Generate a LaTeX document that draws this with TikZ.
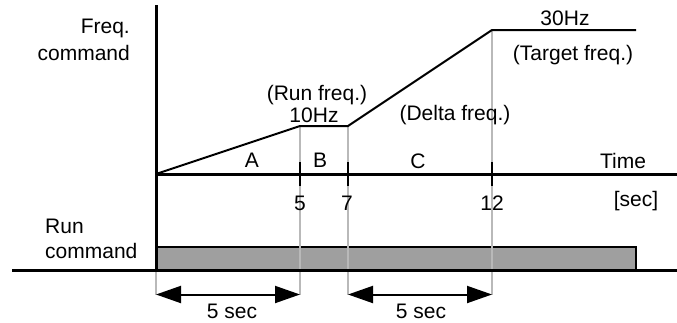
\documentclass[tikz,border=0pt]{standalone}
\usepackage{fontspec}
\setmainfont{Liberation Sans}
\usetikzlibrary{arrows.meta}

\begin{document}
\begin{tikzpicture}[x=1pt, y=-1pt,
  every node/.style={font=\fontsize{21}{25}\selectfont, inner sep=0pt, anchor=base},
  axis/.style={line width=3pt},
  ramp/.style={line width=2pt},
  guide/.style={line width=1.4pt, gray!55},
  dimline/.style={line width=2pt, {Triangle[length=25pt, width=17pt]}-{Triangle[length=25pt, width=17pt]}}]
  \useasboundingbox (0,0) rectangle (677,322);
  % key points of the frequency profile
  \coordinate (o) at (156,174);
  \coordinate (p5) at (300,126);
  \coordinate (p7) at (348,126);
  \coordinate (p12) at (492,30);
  \coordinate (pend) at (636,30);
  \coordinate (dim) at (0,294.5);
  \coordinate (base) at (0,270);
  % run command bar
  \draw[line width=1.4pt, fill=gray!75] (156,247) rectangle (636,270);
  % guide lines
  \draw[guide] (p5) -- (p5 |- dim);
  \draw[guide] (p7) -- (p7 |- dim);
  \draw[guide] (p12) -- (p12 |- dim);
  \draw[guide] (o |- base) -- (o |- dim);
  % axes
  \draw[axis] (156,5) -- (o |- base);
  \draw[axis] (o) -- (677,174);
  \draw[axis] (12,270) -- (677,270);
  \foreach \t in {p5, p7, p12}
    \draw[line width=2.5pt] (\t |- 0,162) -- (\t |- 0,186);
  \draw[ramp] (o) -- (p5) -- (p7) -- (p12) -- (pend);
  % time spans
  \draw[dimline] (o |- dim) -- (p5 |- dim);
  \draw[dimline] (p7 |- dim) -- (p12 |- dim);
  % labels
  \node[anchor=base east] (freq) at (130,33) {Freq.};
  \node[anchor=base east] (freqcmd) at (130,60) {command};
  \node[anchor=base west] (run) at (45,233) {Run};
  \node[anchor=base west] (runcmd) at (45,258) {command};
  \node (runfreq) at (317,100) {(Run freq.)};
  \node (f10) at (314,122) {10Hz};
  \node (f30) at (565,25) {30Hz};
  \node (target) at (573,60) {(Target freq.)};
  \node (delta) at (455,120) {(Delta freq.)};
  \node (secA) at (252,167) {A};
  \node (secB) at (320,167) {B};
  \node (secC) at (418,168) {C};
  \node (time) at (623,168) {Time};
  \node (t5) at (300,210) {5};
  \node (t7) at (347,210) {7};
  \node (t12) at (492,210) {12};
  \node (unit) at (636,206) {[sec]};
  \node (span1) at (232,318) {5 sec};
  \node (span2) at (421,318) {5 sec};
\end{tikzpicture}
\end{document}
